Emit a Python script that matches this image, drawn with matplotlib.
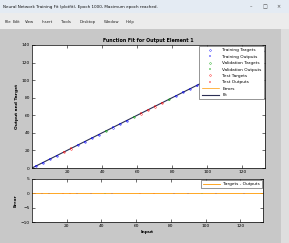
import numpy as np, matplotlib
matplotlib.use('Agg')
import matplotlib.pyplot as plt
from matplotlib.patches import Rectangle

# ---- data ----
train_x   = [2, 6, 10, 14, 26, 30, 34, 38, 46, 50, 54, 82, 86, 90, 94, 102, 106, 110, 118, 122, 126, 130]
train_out = [2.3, 6.1, 10.2, 14.0, 26.1, 29.8, 34.2, 38.0, 46.1, 49.9, 54.0, 82.1, 86.0, 90.1, 93.9, 102.0, 106.1, 110.0, 118.0, 122.1, 126.0, 130.0]
val_x     = [42, 58, 78, 98, 114]
val_out   = [42.1, 58.0, 77.9, 98.1, 114.0]
test_x    = [18, 22, 62, 66, 70, 74]
test_out  = [18.3, 22.2, 62.1, 66.0, 70.2, 73.9]
fit_x     = [0, 133]
fit_y     = [0, 133]

xticks    = [20, 40, 60, 80, 100, 120]
yticks    = [0, 20, 40, 60, 80, 100, 120, 140]
eticks    = [-10, -5, 0, 5]

win_title = 'Neural Network Training Fit (plotfit), Epoch 1000, Maximum epoch reached.'
menus     = ['File', 'Edit', 'View', 'Insert', 'Tools', 'Desktop', 'Window', 'Help']
menu_px   = [5, 13, 25, 42, 61, 80, 104, 126]

C_BG = '#c8c8c8'; C_TR = '#0000ff'; C_VA = '#00a000'; C_TE = '#ff0000'
C_ERR = '#ff9900'; C_FIT = '#2b2f55'

W, H = 289, 243
fig = plt.figure(figsize=(W/100, H/100), dpi=100, facecolor=C_BG)

def fx(px): return px/W
def fy(py): return 1-py/H

# window chrome
fig.patches.append(Rectangle((0, fy(13)), 1, 13/H, transform=fig.transFigure, fc='#e4ebf3', ec='none'))
fig.patches.append(Rectangle((0, fy(29)), 1, 16/H, transform=fig.transFigure, fc='#ececec', ec='none'))
fig.patches.append(Rectangle((fx(281), 0), 8/W, fy(29), transform=fig.transFigure, fc='#dedede', ec='none'))
fig.text(fx(3), fy(7), win_title, fontsize=3.0, va='center', ha='left', color='#111')
fig.text(fx(250), fy(7), '\u2013', fontsize=3.5, va='center', color='#444')
fig.text(fx(263), fy(7), '\u25a1', fontsize=3.5, va='center', color='#444')
fig.text(fx(276), fy(7), '\u00d7', fontsize=3.5, va='center', color='#444')
for m, px in zip(menus, menu_px):
    fig.text(fx(px), fy(22), m, fontsize=2.8, va='center', ha='left', color='#222')

def style(ax):
    ax.tick_params(direction='in', top=True, right=True, length=2, width=0.4,
                   labelsize=3.2, pad=1.5)
    for s in ax.spines.values(): s.set_linewidth(0.5)

# top axes
ax = fig.add_axes([fx(32), fy(168), fx(265)-fx(32), (168-45)/H])
style(ax)
ax.plot(train_x, train_x, 'o', mfc='none', mec=C_TR, ms=1.2, mew=0.3, label='Training Targets')
ax.plot(train_x, train_out, '+', color=C_TR, ms=1.5, mew=0.3, label='Training Outputs')
ax.plot(val_x, val_x, 'o', mfc='none', mec=C_VA, ms=1.2, mew=0.3, label='Validation Targets')
ax.plot(val_x, val_out, '+', color=C_VA, ms=1.5, mew=0.3, label='Validation Outputs')
ax.plot(test_x, test_x, 'o', mfc='none', mec=C_TE, ms=1.2, mew=0.3, label='Test Targets')
ax.plot(test_x, test_out, '+', color=C_TE, ms=1.5, mew=0.3, label='Test Outputs')
ax.plot([], [], '-', color=C_ERR, lw=0.5, label='Errors')
ax.plot(fit_x, fit_y, '-', color=C_FIT, lw=0.8, label='Fit', zorder=1)
ax.set_xlim(0, 133); ax.set_ylim(0, 140)
ax.set_xticks(xticks); ax.set_yticks(yticks)
ax.set_ylabel('Output and Target', fontsize=3.2, fontweight='bold', labelpad=2)
ax.set_title('Function Fit for Output Element 1', fontsize=3.4, fontweight='bold', pad=2)
leg = ax.legend(loc='upper right', fontsize=3.1, labelspacing=0.55, handlelength=4.0,
                borderpad=0.5, fancybox=False, edgecolor='#444', framealpha=1,
                borderaxespad=0.3)
leg.get_frame().set_linewidth(0.4)

# bottom axes: errors
err_x = train_x + val_x + test_x
err_y = list(np.array(train_x) - np.array(train_out)) + \
        list(np.array(val_x) - np.array(val_out)) + list(np.array(test_x) - np.array(test_out))
err_c = [C_TR]*len(train_x) + [C_VA]*len(val_x) + [C_TE]*len(test_x)
bx = fig.add_axes([fx(32), fy(222), fx(263)-fx(32), (222-179)/H])
style(bx)
bx.axhline(0, color=C_ERR, lw=0.6, label='Targets - Outputs')
bx.vlines(err_x, 0, err_y, colors=err_c, lw=0.3, alpha=0.6)
bx.set_xlim(0, 133); bx.set_ylim(-10, 5)
bx.set_xticks(xticks); bx.set_yticks(eticks)
bx.set_xlabel('Input', fontsize=3.2, fontweight='bold', labelpad=1.5)
bx.set_ylabel('Error', fontsize=3.2, fontweight='bold', labelpad=2)
lg2 = bx.legend(loc='upper right', fontsize=3.1, handlelength=4.0, borderpad=0.4,
                fancybox=False, edgecolor='#444', framealpha=1, borderaxespad=0.3)
lg2.get_frame().set_linewidth(0.4)

fig.savefig('out.png', dpi=100, facecolor=C_BG)
